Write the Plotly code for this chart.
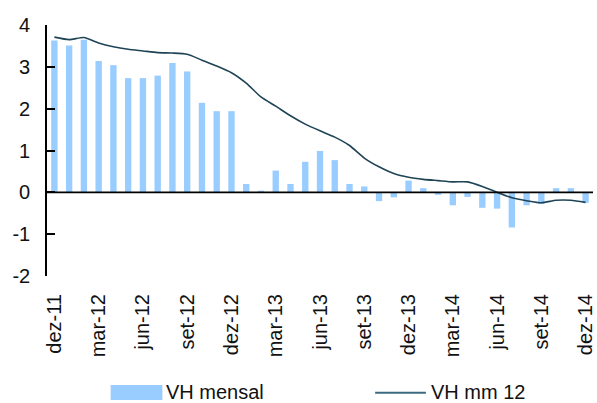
import plotly.graph_objects as go

# Months from dez-11 to dez-14 (Portuguese abbreviations)
month_names = ["jan", "fev", "mar", "abr", "mai", "jun",
               "jul", "ago", "set", "out", "nov", "dez"]
months = ["dez-11"] + [f"{m}-{y}" for y in ("12", "13", "14") for m in month_names]

# Year-on-year change, monthly (%)
vh_mensal = [3.63, 3.51, 3.65, 3.14, 3.04, 2.73, 2.73, 2.79, 3.09, 2.89,
             2.14, 1.94, 1.94, 0.20, 0.04, 0.52, 0.20, 0.73, 0.99, 0.77,
             0.20, 0.14, -0.21, -0.12, 0.28, 0.10, -0.06, -0.31, -0.11, -0.37,
             -0.39, -0.84, -0.31, -0.28, 0.10, 0.10, -0.25]

# Year-on-year change, 12-month moving average (%)
vh_mm12 = [3.71, 3.65, 3.70, 3.57, 3.48, 3.42, 3.38, 3.34, 3.33, 3.30,
           3.16, 3.02, 2.86, 2.61, 2.28, 2.06, 1.83, 1.63, 1.47, 1.32,
           1.12, 0.82, 0.61, 0.45, 0.36, 0.31, 0.28, 0.25, 0.25, 0.14,
           0.00, -0.13, -0.20, -0.25, -0.19, -0.19, -0.24]

tick_labels = months[::3]
y_ticks = [-2, -1, 0, 1, 2, 3, 4]
y_tick_text = [str(v) for v in y_ticks]  # plain hyphen for negatives

BAR_COLOR = "#99CCFF"
LINE_COLOR = "#1F4456"
FONT = "Arial, Liberation Sans, sans-serif"

fig = go.Figure()
fig.add_trace(go.Bar(x=months, y=vh_mensal, name="VH mensal",
                     marker=dict(color=BAR_COLOR, line=dict(width=0)),
                     showlegend=False))
fig.add_trace(go.Scatter(x=months, y=vh_mm12, name="VH mm 12", mode="lines",
                         line=dict(color=LINE_COLOR, width=1.6,
                                   shape="spline", smoothing=0.6),
                         showlegend=False))

# Horizontal axis line at zero, drawn above the bars
fig.add_shape(type="line", xref="paper", yref="y", layer="above",
              x0=0, x1=1, y0=0, y1=0, line=dict(color="black", width=1.6))

# Legend drawn below the axis labels
fig.add_shape(type="rect", xref="paper", yref="paper",
              x0=0.1166, x1=0.2113, y0=-0.494, y1=-0.434,
              fillcolor=BAR_COLOR, line=dict(width=0))
fig.add_shape(type="line", xref="paper", yref="paper",
              x0=0.601, x1=0.694, y0=-0.465, y1=-0.465,
              line=dict(color="#3B6A80", width=2))
fig.add_annotation(text="VH mensal", xref="paper", yref="paper",
                   x=0.2150, y=-0.464, xanchor="left", yanchor="middle",
                   showarrow=False, font=dict(family=FONT, size=20, color="#111"))
fig.add_annotation(text="VH mm 12", xref="paper", yref="paper",
                   x=0.700, y=-0.464, xanchor="left", yanchor="middle",
                   showarrow=False, font=dict(family=FONT, size=20, color="#111"))

fig.update_layout(
    width=597, height=403,
    margin=dict(l=47, r=1, t=25, b=127),
    paper_bgcolor="white", plot_bgcolor="white",
    bargap=0.57,
    font=dict(family=FONT, size=20, color="#111"),
)
fig.update_xaxes(
    type="category", categoryorder="array", categoryarray=months,
    range=[-0.5, len(months) - 0.5],
    tickmode="array", tickvals=tick_labels, ticktext=tick_labels,
    tickangle=-90, ticks="", showline=False, showgrid=False, zeroline=False,
    ticklabelstandoff=13,
    tickfont=dict(family=FONT, size=20, color="#111"),
)
fig.update_yaxes(
    range=[-2, 4], tickmode="array", tickvals=y_ticks, ticktext=y_tick_text,
    ticks="inside", ticklen=8, tickwidth=1.5, tickcolor="black",
    showline=True, linecolor="black", linewidth=1.6,
    showgrid=False, zeroline=False,
    ticklabelstandoff=11,
    tickfont=dict(family=FONT, size=20, color="#111"),
)

fig.write_html("out.html")
